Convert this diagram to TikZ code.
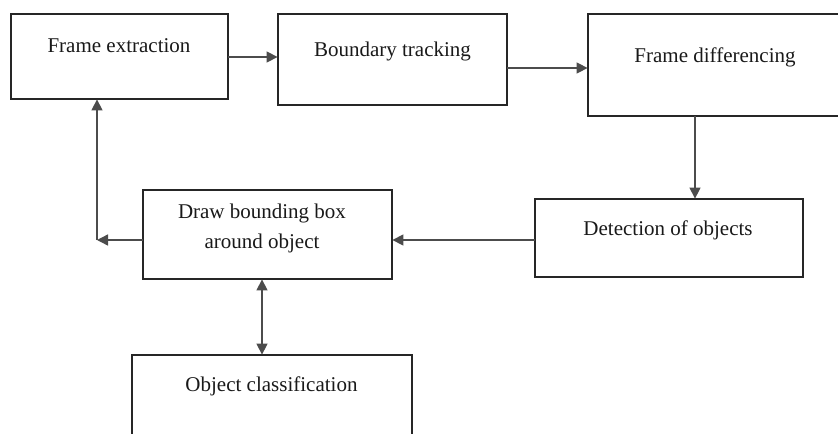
\documentclass[tikz,border=0pt]{standalone}
\usepackage{fontspec}
\setmainfont{Liberation Serif}
\usetikzlibrary{arrows.meta}
\begin{document}
\begin{tikzpicture}[x=0.5pt,y=-0.5pt,
  box/.style={draw=black!85, line width=1.2pt, fill=none},
  lbl/.style={anchor=base, inner sep=0pt, font=\fontsize{10.5pt}{14pt}\selectfont, text=black!90},
  arr/.style={draw=black!70, line width=0.7pt, -{Triangle[length=5.5pt,width=5.5pt]}},
  darr/.style={draw=black!70, line width=0.7pt, {Triangle[length=5.5pt,width=5.5pt]}-{Triangle[length=5.5pt,width=5.5pt]}}]
\useasboundingbox (0,0) rectangle (838,433);
\clip (0,0) rectangle (838,433);
% boxes
\draw[box] (11,14) rectangle (228,99);
\node[inner sep=0pt, minimum width=217*0.5pt, minimum height=85*0.5pt] (fe) at (119.5,56.5) {};
\draw[box] (278,14) rectangle (507,105);
\node[inner sep=0pt, minimum width=229*0.5pt, minimum height=91*0.5pt] (bt) at (392.5,59.5) {};
\draw[box] (588,14) rectangle (850,116);
\node[inner sep=0pt, minimum width=262*0.5pt, minimum height=102*0.5pt] (fd) at (719,65) {};
\draw[box] (535,199) rectangle (803,277);
\node[inner sep=0pt, minimum width=268*0.5pt, minimum height=78*0.5pt] (do) at (669,238) {};
\draw[box] (143,190) rectangle (392,279);
\node[inner sep=0pt, minimum width=249*0.5pt, minimum height=89*0.5pt] (bb) at (267.5,234.5) {};
\draw[box] (132,355) rectangle (412,445);
\node[inner sep=0pt, minimum width=280*0.5pt, minimum height=90*0.5pt] (oc) at (272,400) {};
% labels
\node[lbl] (tfe) at (119,53) {Frame extraction};
\node[lbl] (tbt) at (392.5,57) {Boundary tracking};
\node[lbl] (tfd) at (715,62) {Frame differencing};
\node[lbl] (tdo) at (668,235) {Detection of objects};
\node[lbl] (tbb1) at (262,218) {Draw bounding box};
\node[lbl] (tbb2) at (262,248) {around object};
\node[lbl] (toc) at (271.5,391) {Object classification};
% connectors
\coordinate (c1) at (97,240);
\draw[arr] (fe.east |- 0,57) -- (bt.west |- 0,57);
\draw[arr] (bt.east |- 0,68) -- (fd.west |- 0,68);
\draw[arr] (fd.south -| 695,0) -- (do.north -| 695,0);
\draw[arr] (do.west |- 0,240) -- (bb.east |- 0,240);
\draw[arr] (bb.west |- 0,240) -- (c1);
\draw[arr] (c1) -- (fe.south -| c1);
\draw[darr] (bb.south -| 262,0) -- (oc.north -| 262,0);
\end{tikzpicture}
\end{document}
